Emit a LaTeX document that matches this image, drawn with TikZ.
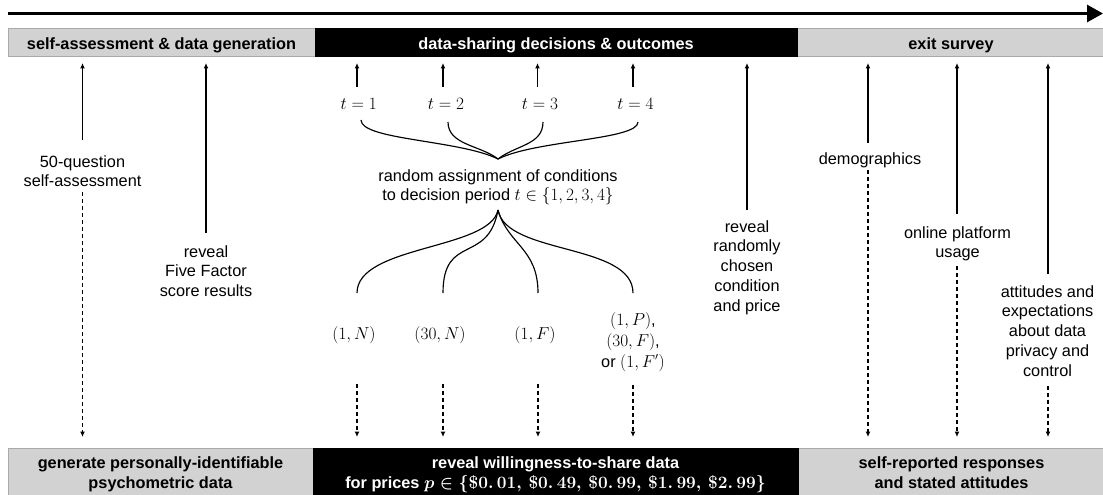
\documentclass[tikz,border=0pt]{standalone}
\usepackage[no-math]{fontspec}
\setmainfont{Liberation Sans}
\usetikzlibrary{arrows.meta}
\definecolor{barfill}{RGB}{210,210,210}
\definecolor{barrule}{RGB}{170,170,170}
\begin{document}
\begin{tikzpicture}[x=1pt,y=-1pt]
\tikzset{
  txt/.style={font=\fontsize{16.3}{19.8}\selectfont, align=center, inner sep=0pt},
  head/.style={font=\fontsize{16.3}{20}\selectfont\bfseries, align=center, inner sep=0pt},
  tipped/.style={-{Latex[length=5.5pt,width=5pt]}},
  upline/.style={tipped, line width=1.25pt},
  dashline/.style={tipped, line width=1.2pt, dash pattern=on 4pt off 3pt},
  fork/.style={line width=1.15pt},
  lightbar/.style={rectangle, fill=barfill, draw=barrule, line width=0.7pt, inner sep=0pt, anchor=north west},
  darkbar/.style={rectangle, fill=black, draw=black, line width=0.7pt, inner sep=0pt, anchor=north west},
}
\useasboundingbox (0,0) rectangle (1103,495);

% timeline
\coordinate (tlS) at (8,13.5);
\coordinate (tlE) at (1103,13.5);
\draw[line width=3pt, -{Triangle[length=16pt,width=17pt]}] (tlS) -- (tlE);

% phase bars, top
\node[lightbar, minimum width=307pt, minimum height=28.5pt] (topA) at (8,28) {};
\node[lightbar, minimum width=310pt, minimum height=28.5pt] (topC) at (797,28) {};
\node[darkbar, minimum width=482pt, minimum height=28.5pt] (topB) at (315,28) {};
\node[head, anchor=base] (topAt) at (161.5,49) {self-assessment \& data generation};
\node[head, anchor=base, text=white] (topBt) at (556,49) {data-sharing decisions \& outcomes};
\node[head, anchor=base] (topCt) at (951,49) {exit survey};

% phase bars, bottom
\node[lightbar, minimum width=305pt, minimum height=50pt] (botA) at (8,447.7) {};
\node[lightbar, minimum width=309pt, minimum height=50pt] (botC) at (798,447.7) {};
\node[darkbar, minimum width=485pt, minimum height=50pt] (botB) at (313,447.7) {};
\node[head, anchor=north] (botAt) at (160.5,456.5) {generate personally-identifiable\\psychometric data};
\node[head, anchor=north, text=white] (botBt) at (555.5,456.5) {reveal willingness-to-share data\\for prices {\boldmath$p\in\{\$0.\,01,\,\$0.\,49,\,\$0.\,99,\,\$1.\,99,\,\$2.\,99\}$}};
\node[head, anchor=north] (botCt) at (951.5,456.5) {self-reported responses\\and stated attitudes};

% self-assessment
\node[txt, anchor=north] (q50) at (82.5,155) {50-question\\self-assessment};
\coordinate (q50up) at (82.5,63);
\coordinate (q50dn) at (82.5,437);
\draw[upline, shorten <=15pt] (q50.north) -- (q50up);
\draw[dashline, shorten <=5pt] (q50.south) -- (q50dn);

\node[txt, anchor=north] (ff) at (206,245) {reveal\\Five Factor\\score results};
\coordinate (ffup) at (206,63);
\draw[upline, shorten <=12pt] (ff.north) -- (ffup);

% decision periods
\foreach \i/\xa/\xt in {1/357/358.7, 2/443/446, 3/537.5/540, 4/633/635.5}{
  \node[txt, anchor=base] (t\i) at (\xt,110) {$t=\i$};
  \coordinate (tu\i) at (\xa,63);
  \draw[upline, shorten <=12pt] (t\i.north -| tu\i) -- (tu\i);
}

% brace joining the periods
\coordinate (jA) at (498,159);
\coordinate (b1) at (361,120);
\coordinate (b2) at (448,122);
\coordinate (b3) at (543,122);
\coordinate (b4) at (638,122);
\draw[fork] (b1) .. controls +(0,20) and +(-38,-19) .. (jA);
\draw[fork] (b2) .. controls +(0,23) and +(-18,-14) .. (jA);
\draw[fork] (b3) .. controls +(0,23) and +(18,-14) .. (jA);
\draw[fork] (b4) .. controls +(0,18) and +(38,-19) .. (jA);

\node[txt, anchor=north] (ra) at (498,169) {random assignment of conditions\\to decision period $t\in\{1,2,3,4\}$};

% fan to the conditions
\coordinate (jB) at (498,210);
\coordinate (f1) at (357,293);
\coordinate (f2) at (443,293);
\coordinate (f3) at (538,293);
\coordinate (f4) at (633,293);
\draw[fork] (jB) .. controls +(-8,40) and +(0,-48) .. (f1);
\draw[fork] (jB) .. controls +(-10,55) and +(0,-60) .. (f2);
\draw[fork] (jB) .. controls +(10,35) and +(0,-45) .. (f3);
\draw[fork] (jB) .. controls +(8,45) and +(0,-50) .. (f4);

\node[txt, anchor=base] (c1) at (354,339) {$(1,N)$};
\node[txt, anchor=base] (c2) at (440,339) {$(30,N)$};
\node[txt, anchor=base] (c3) at (535,339) {$(1,F)$};
\node[txt, anchor=north, font=\fontsize{16.3}{21}\selectfont] (c4) at (633,312) {$(1,P)$,\\$(30,F)$,\\or $(1,F')$};
\coordinate (d1) at (357,437);
\coordinate (d2) at (443,437);
\coordinate (d3) at (538,437);
\coordinate (d4) at (633,437);
\draw[dashline, shorten <=40pt] (c1.south -| d1) -- (d1);
\draw[dashline, shorten <=40pt] (c2.south -| d2) -- (d2);
\draw[dashline, shorten <=40pt] (c3.south -| d3) -- (d3);
\draw[dashline, shorten <=13pt] (c4.south -| d4) -- (d4);

\node[txt, anchor=north] (rr) at (747,220) {reveal\\randomly\\chosen\\condition\\and price};
\coordinate (rrup) at (747,63);
\draw[upline, shorten <=10pt] (rr.north) -- (rrup);

% exit survey
\node[txt, anchor=north] (dm) at (870,152.6) {demographics};
\coordinate (dmup) at (868,63);
\coordinate (dmdn) at (868,437);
\draw[upline, shorten <=10pt] (dm.north -| dmup) -- (dmup);
\draw[dashline, shorten <=2pt] (dm.south -| dmdn) -- (dmdn);

\node[txt, anchor=north] (op) at (957.5,226) {online platform\\usage};
\coordinate (opup) at (957,63);
\coordinate (opdn) at (957,437);
\draw[upline, shorten <=12pt] (op.north -| opup) -- (opup);
\draw[dashline, shorten <=5pt] (op.south -| opdn) -- (opdn);

\node[txt, anchor=north] (att) at (1047.5,285) {attitudes and\\expectations\\about data\\privacy and\\control};
\coordinate (attup) at (1048,63);
\coordinate (attdn) at (1048,437);
\draw[upline, shorten <=11pt] (att.north -| attup) -- (attup);
\draw[dashline, shorten <=9pt] (att.south -| attdn) -- (attdn);
\end{tikzpicture}
\end{document}
